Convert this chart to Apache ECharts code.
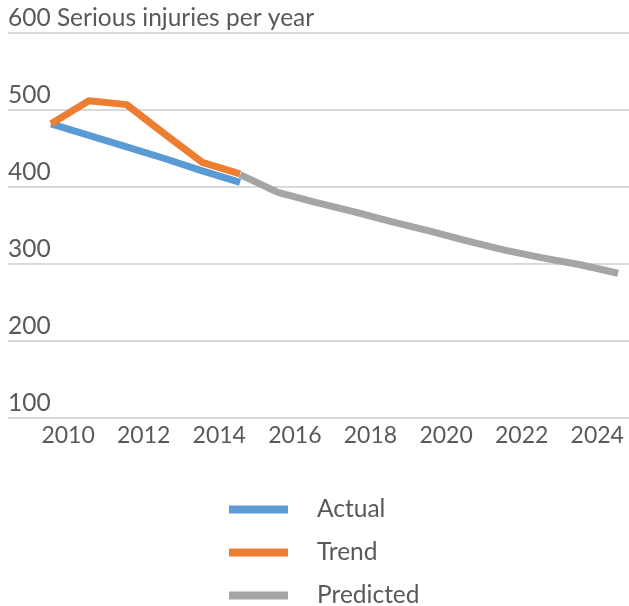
<!DOCTYPE html>
<html>
<head>
<meta charset="utf-8">
<script src="https://cdn.jsdelivr.net/npm/echarts@6/dist/echarts.min.js"></script>
<style>
  html, body { margin: 0; padding: 0; background: #fff; }
  #chart { width: 629px; height: 606px; }
</style>
</head>
<body>
<div id="chart"></div>
<script>
const years = [2010, 2011, 2012, 2013, 2014, 2015, 2016, 2017, 2018, 2019, 2020, 2021, 2022, 2023, 2024, 2025];
const actual = [482, 467, 452, 437, 421, 406];
const trend = [482, 512, 507, 469, 432, 417];
const predicted = [null, null, null, null, null, 416, 393, 380, 368, 355, 343, 330, 318, 308, 299, 288];
const yearTicks = [2010, 2012, 2014, 2016, 2018, 2020, 2022, 2024];
const yTitle = 'Serious injuries per year';

const pairs = (vals) => vals.map((v, i) => [years[i], v]).filter(p => p[1] != null);

const chart = echarts.init(document.getElementById('chart'));
const font = 'Lato, "Open Sans", sans-serif';
const textColor = '#595959';
const fs = 24.5;

chart.setOption({
    animation: false,
    grid: {
        left: 8,
        right: 0,
        top: 33,
        bottom: 188,
        outerBoundsMode: 'none'
    },
    xAxis: {
        type: 'value',
        min: 2008.86,
        max: 2025.29,
        axisLine: { show: false },
        axisTick: { show: false },
        splitLine: { show: false },
        axisLabel: {
            customValues: yearTicks,
            margin: 6,
            padding: [0, 0, 0, 34],
            fontFamily: font,
            fontSize: 23,
            color: textColor,
            formatter: (v) => String(v)
        }
    },
    yAxis: {
        type: 'value',
        min: 100,
        max: 600,
        interval: 100,
        axisLine: { show: false },
        axisTick: { show: false },
        splitLine: { lineStyle: { color: '#D9D9D9', width: 2 } },
        axisLabel: {
            inside: true,
            margin: 0,
            align: 'left',
            verticalAlign: 'bottom',
            lineHeight: fs,
            padding: [0, 0, 3, 0],
            fontFamily: font,
            fontSize: fs,
            color: textColor,
            formatter: (v) => v === 600 ? v + ' ' + yTitle : String(v)
        }
    },
    legend: {
        orient: 'vertical',
        left: 229,
        top: 497,
        padding: 0,
        height: 140,
        icon: 'rect',
        itemWidth: 59,
        itemHeight: 8,
        itemGap: 18,
        textStyle: {
            fontFamily: font,
            fontSize: fs,
            lineHeight: 24,
            color: textColor,
            padding: [0, 0, 0, 24]
        },
        data: ['Actual', 'Trend', 'Predicted']
    },
    series: [
        {
            name: 'Actual',
            type: 'line',
            data: pairs(actual),
            showSymbol: false,
            color: '#5B9BD5',
            lineStyle: { width: 7, color: '#5B9BD5' }
        },
        {
            name: 'Trend',
            type: 'line',
            data: pairs(trend),
            showSymbol: false,
            color: '#ED7D31',
            lineStyle: { width: 7, color: '#ED7D31' }
        },
        {
            name: 'Predicted',
            type: 'line',
            data: pairs(predicted),
            showSymbol: false,
            color: '#A5A5A5',
            lineStyle: { width: 7, color: '#A5A5A5' }
        }
    ]
});
</script>
</body>
</html>
